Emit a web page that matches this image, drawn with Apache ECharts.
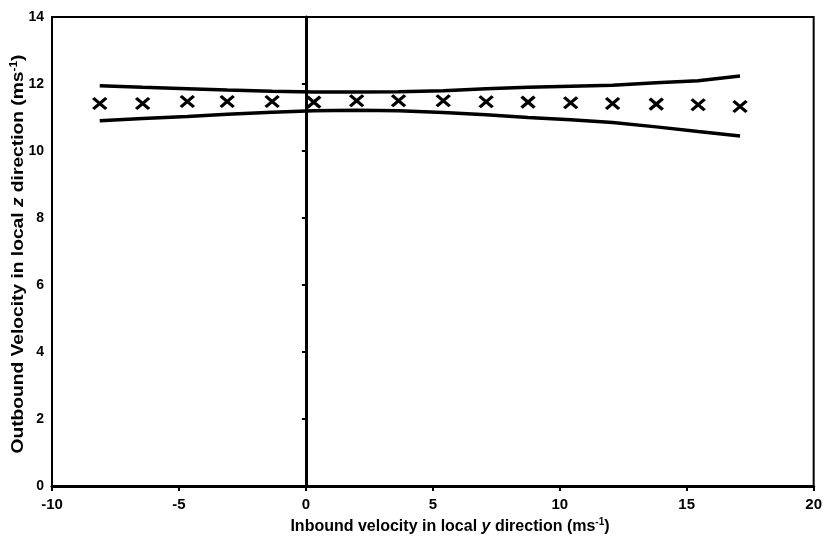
<!DOCTYPE html>
<html>
<head>
<meta charset="utf-8">
<script src="https://cdn.jsdelivr.net/npm/echarts@6/dist/echarts.min.js"></script>
<style>html,body{margin:0;padding:0;background:#fff}#c{width:825px;height:555px}</style>
</head>
<body>
<div id="c"></div>
<script>
const xPoints = [-8.12, -6.43, -4.67, -3.10, -1.33, 0.31, 2.0, 3.65, 5.41, 7.10, 8.75, 10.43, 12.08, 13.8, 15.45, 17.1];
const yPoints = [11.42, 11.42, 11.48, 11.48, 11.48, 11.46, 11.5, 11.5, 11.5, 11.47, 11.46, 11.44, 11.42, 11.4, 11.38, 11.33];
const upperX = [-8.12, -6.43, -4.67, -3.10, -1.33, 0.31, 2.0, 3.65, 5.41, 7.10, 8.75, 10.43, 12.08, 13.8, 15.45, 17.1];
const upperY = [11.95, 11.9, 11.86, 11.82, 11.78, 11.76, 11.76, 11.77, 11.8, 11.86, 11.9, 11.93, 11.96, 12.04, 12.1, 12.24];
const lowerX = [-8.12, -6.43, -4.67, -3.10, -1.33, 0.31, 2.0, 3.65, 5.41, 7.10, 8.75, 10.43, 12.08, 13.8, 15.45, 17.1];
const lowerY = [10.9, 10.97, 11.03, 11.1, 11.16, 11.2, 11.22, 11.2, 11.15, 11.08, 11.0, 10.93, 10.85, 10.72, 10.58, 10.45];
const xTitle = ['Inbound velocity in local ', 'y', ' direction (ms', '-1', ')'];
const yTitle = ['Outbound Velocity in local ', 'z', ' direction (ms', '-1', ')'];

const FONT = '"Liberation Sans", Arial, sans-serif';
const zip = (a, b) => a.map((v, i) => [v, b[i]]);
function richTitle(parts) {
  return '{n|' + parts[0] + '}{i|' + parts[1] + '}{n|' + parts[2] + '}{s|' + parts[3] + '}{n|' + parts[4] + '}';
}
const rich = {
  n: { fontFamily: FONT, fontWeight: 'bold', fontSize: 16, fill: '#000', color: '#000' },
  i: { fontFamily: FONT, fontWeight: 'bold', fontStyle: 'italic', fontSize: 16, fill: '#000', color: '#000' },
  s: { fontFamily: FONT, fontWeight: 'bold', fontSize: 10, fill: '#000', color: '#000', padding: [0, 0, 9, 0] }
};

const chart = echarts.init(document.getElementById('c'), null, { renderer: 'canvas' });
chart.setOption({
  animation: false,
  backgroundColor: '#fff',
  grid: { left: 52, right: 8, top: 17, bottom: 69, show: true, borderColor: '#000', borderWidth: 2, backgroundColor: 'transparent' },
  xAxis: {
    type: 'value', min: -10, max: 20, interval: 5,
    axisLine: { onZero: false, lineStyle: { color: '#000', width: 3 } },
    axisTick: { show: true, inside: false, length: 5, lineStyle: { color: '#000', width: 2 } },
    axisLabel: { color: '#000', fontFamily: FONT, fontWeight: 'bold', fontSize: 15, margin: 11 },
    splitLine: { show: false }
  },
  yAxis: {
    type: 'value', min: 0, max: 14, interval: 2,
    axisLine: { onZero: true, lineStyle: { color: '#000', width: 3 } },
    axisTick: { show: true, inside: false, length: 4, lineStyle: { color: '#000', width: 2 } },
    axisLabel: { color: '#000', fontFamily: FONT, fontWeight: 'bold', fontSize: 14, margin: 8 },
    splitLine: { show: false }
  },
  series: [
    {
      type: 'line', data: zip(upperX, upperY), showSymbol: false, symbol: 'none',
      lineStyle: { color: '#000', width: 3.5 }, z: 3
    },
    {
      type: 'line', data: zip(lowerX, lowerY), showSymbol: false, symbol: 'none',
      lineStyle: { color: '#000', width: 3.5 }, z: 3
    },
    {
      type: 'scatter', data: zip(xPoints, yPoints),
      symbol: 'path://M0,0L10,10M10,0L0,10', symbolSize: [13, 11],
      itemStyle: { color: 'none', borderColor: '#000', borderWidth: 3.2, opacity: 1 }, z: 4
    }
  ],
  graphic: [
    {
      type: 'text', x: 450, y: 527,
      style: { text: richTitle(xTitle), rich: rich, fill: '#000', align: 'center', verticalAlign: 'middle' }
    },
    {
      type: 'text', x: 19, y: 254, rotation: Math.PI / 2, scaleX: 1.2,
      style: { text: richTitle(yTitle), rich: rich, fill: '#000', align: 'center', verticalAlign: 'middle' }
    }
  ]
});
</script>
</body>
</html>
